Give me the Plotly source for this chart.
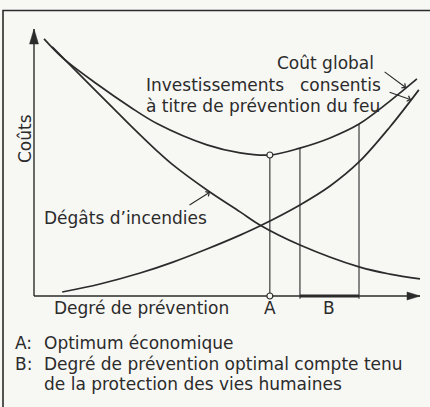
import numpy as np
import plotly.graph_objects as go

# ---- data (x: degré de prévention, y: coûts; arbitrary 0-100 units) ----
degats_x = [4.7, 11.9, 20.5, 24.9, 31.9, 36.0, 44.8, 53.4, 58.5, 68.9, 84.2, 92.2, 100.0]
degats_y = [93.3, 82.8, 70.4, 64.0, 54.3, 49.1, 39.7, 31.5, 26.6, 19.1, 10.9, 8.2, 6.4]

invest_x = [7.3, 17.1, 27.5, 36.0, 44.8, 53.4, 58.5, 68.9, 76.7, 84.2, 92.2, 99.7]
invest_y = [1.5, 4.5, 8.6, 12.7, 17.6, 22.8, 26.2, 34.1, 41.2, 50.2, 63.3, 77.2]

global_x = [2.6, 7.5, 16.3, 24.9, 32.1, 44.8, 53.4, 61.1, 68.9, 76.7, 84.2, 92.2, 99.2]
global_y = [96.3, 89.1, 79.4, 70.8, 64.4, 56.6, 53.6, 52.8, 55.4, 59.2, 64.4, 73.0, 81.3]

optimum_a = 61.1            # A: optimum économique
zone_b = [68.9, 84.2]       # B: degré de prévention optimal (vies humaines)

# ---- layout geometry ----
W, H = 430, 407
L, R, T, B = 14, 6, 20, 100
OX, OY = 34, 296          # pixel position of axis origin
XE, YE = 420, 29          # pixel position of axis ends (data 100)
sx = (XE - OX) / 100.0
sy = (OY - YE) / 100.0
xrange = [(L - OX) / sx, (W - R - OX) / sx]
yrange = [(OY - (H - B)) / sy, (OY - T) / sy]


def pxx(p):
    return (p - L) / (W - L - R)


def pxy(p):
    return (H - B - p) / (H - T - B)


INK = "#2b2b2b"
BG = "#f7f7f4"
FONT = dict(family="DejaVu Sans", size=17, color=INK)

fig = go.Figure()

# axes
fig.add_trace(go.Scatter(x=[0, 0, None, 0, 100], y=[0, 100, None, 0, 0], mode="lines",
                         line=dict(color=INK, width=1.4), hoverinfo="skip"))

# curves
for xs, ys in [(global_x, global_y), (degats_x, degats_y), (invest_x, invest_y)]:
    fig.add_trace(go.Scatter(x=xs, y=ys, mode="lines",
                             line=dict(color=INK, width=1.7, shape="spline", smoothing=1.0),
                             hoverinfo="skip"))

# vertical lines A and B
ga = float(np.interp(optimum_a, global_x, global_y))
gb = [float(np.interp(v, global_x, global_y)) for v in zone_b]
fig.add_trace(go.Scatter(
    x=[optimum_a, optimum_a, None, zone_b[0], zone_b[0], None, zone_b[1], zone_b[1]],
    y=[0, ga, None, -1, gb[0], None, -1, gb[1]],
    mode="lines", line=dict(color=INK, width=1.1), hoverinfo="skip"))

# B bar on the axis
fig.add_trace(go.Scatter(x=zone_b, y=[0, 0], mode="lines",
                         line=dict(color=INK, width=3.2), hoverinfo="skip"))

# A markers
fig.add_trace(go.Scatter(x=[optimum_a, optimum_a], y=[ga, 0], mode="markers",
                         marker=dict(symbol="circle", size=6, color=BG,
                                     line=dict(color=INK, width=1.2)),
                         hoverinfo="skip"))

shapes = [
    # arrowheads on axes
    dict(type="path", xref="x", yref="y", xsizemode="pixel", ysizemode="pixel",
         xanchor=0, yanchor=100, path="M0,0L-4.5,-15L4.5,-15Z",
         fillcolor=INK, line=dict(color=INK, width=0.5)),
    dict(type="path", xref="x", yref="y", xsizemode="pixel", ysizemode="pixel",
         xanchor=100, yanchor=0, path="M0,0L-13,4L-13,-4Z",
         fillcolor=INK, line=dict(color=INK, width=0.5)),
    # frame
    dict(type="rect", xref="paper", yref="paper",
         x0=pxx(3), x1=pxx(445), y0=pxy(10.5), y1=pxy(425),
         line=dict(color=INK, width=1.6)),
]

annotations = []


def txt(t, x, y, xanchor="left", angle=0):
    annotations.append(dict(text=t, x=pxx(x), y=pxy(y), xref="paper", yref="paper",
                            xanchor=xanchor, yanchor="middle", showarrow=False,
                            borderpad=0, textangle=angle, font=FONT))


txt("Coût global", 375, 63, "right")
txt("Investissements", 145, 85)
txt("consentis", 382, 85, "right")
txt("à titre de prévention du feu", 145, 105.5)
txt("Dégâts d’incendies", 43, 218)
txt("Coûts", 25, 139, "center", -90)
txt("Degré de prévention", 53, 308)
txt("A", 270, 308, "center")
txt("B", 329, 308, "center")
txt("A:", 14, 343)
txt("Optimum économique", 43, 343)
txt("B:", 14, 363.5)
txt("Degré de prévention optimal compte tenu", 43, 363.5)
txt("de la protection des vies humaines", 43, 384)

# leader arrows (tip on curve, tail offset in pixels)
leaders = [
    (96.4, global_x, global_y, -23, -17),
    (97.7, invest_x, invest_y, -23, -8),
    (45.6, degats_x, degats_y, -22, 14),
]
for lx, xs, ys, dx, dy in leaders:
    annotations.append(dict(text="", x=lx, y=float(np.interp(lx, xs, ys)),
                            xref="x", yref="y", ax=dx, ay=dy, showarrow=True,
                            arrowhead=4, arrowsize=1.0, arrowwidth=1.1,
                            arrowcolor=INK, standoff=0))

fig.update_layout(
    width=W, height=H, autosize=False,
    margin=dict(l=L, r=R, t=T, b=B, pad=0),
    paper_bgcolor=BG, plot_bgcolor=BG,
    showlegend=False,
    xaxis=dict(range=xrange, visible=False, fixedrange=True),
    yaxis=dict(range=yrange, visible=False, fixedrange=True),
    shapes=shapes, annotations=annotations,
)

fig.write_html("out.html", config={"displayModeBar": False},
               post_script="document.body.style.margin='0';document.body.style.overflow='hidden';")
